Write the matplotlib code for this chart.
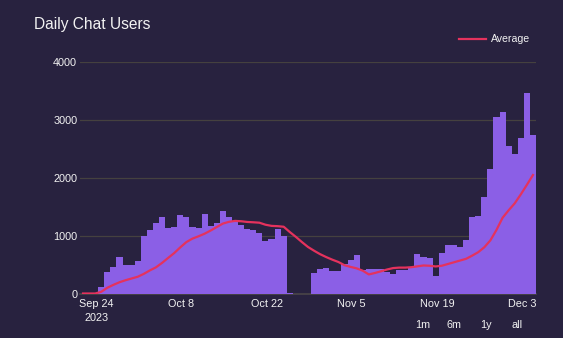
import matplotlib
matplotlib.use("Agg")
import matplotlib.pyplot as plt
import matplotlib.dates as mdates
from matplotlib.lines import Line2D
import pandas as pd
import numpy as np

# ---- data ----
start_date = "2023-09-21"
users = [0, 0, 0,
         116, 378, 465, 640, 500, 500, 570, 988, 1093, 1221, 1320, 1128, 1145,
         1355, 1320, 1145, 1128, 1372, 1163, 1215, 1424, 1320, 1250, 1180, 1110,
         1093, 1041, 901, 936, 1110, 988, 15, 0, 0, 0, 349, 430, 448, 395, 395,
         517, 587, 674, 413, 430, 430, 430, 366, 343, 413, 413, 465, 692, 640,
         622, 308, 709, 831, 831, 797, 919, 1319, 1336, 1667, 2154, 3058, 3145,
         2554, 2414, 2693, 3475, 2745]
average = [0, 0, 0, 30, 100, 150, 195, 230, 260, 290, 340, 400, 453, 530, 616,
           700, 799, 890, 950, 990, 1035, 1090, 1150, 1210, 1240, 1256, 1250,
           1238, 1232, 1225, 1190, 1170, 1165, 1155, 1064, 980, 890, 805, 740,
           680, 630, 585, 545, 490, 460, 435, 395, 330, 355, 384, 415, 440, 448,
           448, 455, 470, 485, 480, 468, 480, 510, 540, 570, 600, 655, 715, 800,
           920, 1100, 1310, 1440, 1560, 1715, 1880, 2050]
tick_dates = ["2023-09-24", "2023-10-08", "2023-10-22", "2023-11-05",
              "2023-11-19", "2023-12-03"]
tick_labels = ["Sep 24\n2023", "Oct 8", "Oct 22", "Nov 5", "Nov 19", "Dec 3"]
y_ticks = [0, 1000, 2000, 3000, 4000]
title = "Daily Chat Users"
legend_label = "Average"
range_buttons = ["1m", "6m", "1y", "all"]

# ---- style ----
BG = "#28223f"
BAR = "#8b5fe6"
LINE = "#e5325d"
GRID = "#45413f"
TXT = "#f2f2f2"
FONT = ["Liberation Sans", "DejaVu Sans"]
plt.rcParams["font.family"] = FONT

W, H = 563, 338
fig = plt.figure(figsize=(W / 100, H / 100), dpi=100, facecolor=BG)

def fx(x):
    return x / W

def fy(y):
    return 1 - y / H

ax = fig.add_axes([fx(80), fy(293.5), fx(536) - fx(80), fy(62.3) - fy(293.5)])
ax.set_facecolor(BG)

dates = pd.date_range(start_date, periods=len(users), freq="D")
xnum = mdates.date2num(dates.to_pydatetime())
shift = 0.3
ax.bar(xnum + shift, users, width=1.0, align="edge", color=BAR, linewidth=0, zorder=2)
ax.plot(xnum + shift + 0.5, average, color=LINE, linewidth=1.6, zorder=3,
        solid_joinstyle="round")

x0 = xnum[0] + shift
ax.set_xlim(x0, x0 + len(users))
ax.set_ylim(0, 4000)

ax.set_yticks(y_ticks)
ax.set_yticklabels([str(v) for v in y_ticks])
ax.yaxis.grid(True, color=GRID, linewidth=0.9, zorder=0)
ax.set_axisbelow(True)

tnum = mdates.date2num(pd.to_datetime(tick_dates).to_pydatetime())
ax.set_xticks(tnum)
ax.set_xticklabels(tick_labels, linespacing=1.45)
ax.tick_params(axis="both", length=0, colors=TXT, labelsize=7.8)
ax.tick_params(axis="x", pad=4)
ax.tick_params(axis="y", pad=2)

for s in ["top", "right", "left"]:
    ax.spines[s].set_visible(False)
ax.spines["bottom"].set_color("#4a4548")
ax.spines["bottom"].set_linewidth(1.2)
ax.spines["bottom"].set_zorder(1)

# title
fig.text(fx(34), fy(24), title, color=TXT, fontsize=11.2, ha="left", va="center")

# legend
fig.add_artist(Line2D([fx(459), fx(486)], [fy(39), fy(39)], color=LINE, linewidth=1.6))
fig.text(fx(491), fy(39.5), legend_label, color=TXT, fontsize=7.6, ha="left", va="center")

# range buttons
for lbl, xc in zip(range_buttons, [422.7, 454.3, 486, 517.3]):
    fig.text(fx(xc), fy(324.5), lbl, color=TXT, fontsize=7.8, ha="center", va="center")

fig.savefig("out.png", dpi=100, facecolor=BG)
